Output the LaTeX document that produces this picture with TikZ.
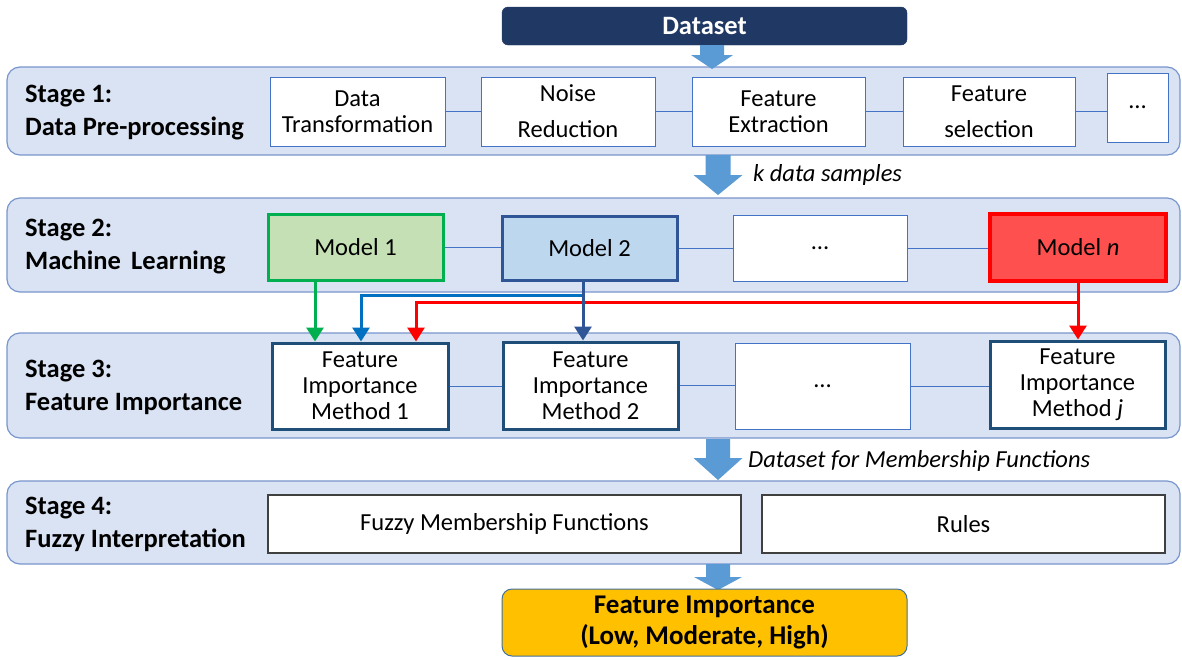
\documentclass[tikz,border=0pt]{standalone}
\usepackage{fontspec}
\setmainfont{Carlito}
\usetikzlibrary{arrows.meta}
\definecolor{panelfill}{RGB}{218,227,243}
\definecolor{panelborder}{RGB}{120,150,205}
\definecolor{navy}{RGB}{32,56,100}
\definecolor{arrowblue}{RGB}{91,155,213}
\definecolor{thinblue}{RGB}{68,114,196}
\definecolor{mgreenfill}{RGB}{197,224,180}
\definecolor{mgreen}{RGB}{0,176,80}
\definecolor{mbluefill}{RGB}{189,215,238}
\definecolor{mblue}{RGB}{47,85,151}
\definecolor{mredfill}{RGB}{255,80,80}
\definecolor{mred}{RGB}{255,0,0}
\definecolor{fimborder}{RGB}{31,78,121}
\definecolor{lineblue}{RGB}{0,112,192}
\definecolor{darkgray}{RGB}{64,64,64}
\definecolor{gold}{RGB}{255,192,0}
\definecolor{goldborder}{RGB}{65,113,156}
\newcommand{\blkarrow}[6]{%
  \fill[arrowblue] ({#1-#5},#2) -- ({#1+#5},#2) -- ({#1+#5},#3) -- ({#1+#6},#3)
    -- (#1,#4) -- ({#1-#6},#3) -- ({#1-#5},#3) -- cycle;}
\tikzset{
  panel/.style={draw=panelborder, fill=panelfill, rounded corners=13pt, line width=1.2pt},
  boxtext/.style={font=\fontsize{24.5}{26}\selectfont, align=center, inner sep=0pt, text=black},
  thinbox/.style={boxtext, draw=thinblue, fill=white, line width=1pt},
  modelbox/.style={boxtext, line width=3pt},
  fimbox/.style={boxtext, draw=fimborder, fill=white, line width=3pt},
  fuzzbox/.style={boxtext, draw=darkgray, fill=white, line width=1.2pt},
  stagelabel/.style={font=\bfseries\fontsize{26.5}{33}\selectfont, align=left, anchor=west, inner sep=0pt},
  conn/.style={draw=thinblue, line width=0.8pt},
  flow/.style={line width=3pt, -{Triangle[width=17pt,length=14pt]}},
  note/.style={font=\itshape\fontsize{24.5}{27}\selectfont, anchor=west, inner sep=0pt},
}
\begin{document}
\begin{tikzpicture}[x=1pt, y=-1pt]
\useasboundingbox[fill=white] (0,0) rectangle (1182,659);
% panels
\draw[panel] (7,67) rectangle (1180,155);
\draw[panel] (7,198) rectangle (1180,292);
\draw[panel] (7,333) rectangle (1180,438);
\draw[panel] (7,481) rectangle (1180,564);
% dataset
\node[fill=navy, draw=navy, rounded corners=6pt, minimum width=405pt, minimum height=38pt, inner sep=0pt,
  text=white, font=\bfseries\fontsize{26.5}{30}\selectfont] (ds) at (704.5,26) {Dataset};
% block arrows
\blkarrow{712}{45}{55}{69}{12}{21}
\blkarrow{718}{155}{175}{195}{12.5}{24.5}
\blkarrow{718}{439}{458}{480}{12}{24.5}
\blkarrow{718}{564}{577}{590}{12}{24}
% notes
\node[note] (kds) at (753,175) {k data samples};
\node[note] (dmf) at (748,461) {Dataset for Membership Functions};
% stage labels
\node[stagelabel] (s1) at (25,113) {Stage 1:\\Data Pre-processing};
\node[stagelabel] (s2) at (25,247) {Stage 2:\\Machine\, Learning};
\node[stagelabel] (s3) at (25,387) {Stage 3:\\Feature Importance};
\node[stagelabel] (s4) at (25,524) {Stage 4:\\Fuzzy Interpretation};
% stage 1 boxes
\node[thinbox, minimum width=175pt, minimum height=69pt] (dt) at (357.5,111.5) {Data\\Transformation};
\node[thinbox, minimum width=174pt, minimum height=69pt] (nr) at (568,111.5) {Noise\\[10pt]Reduction};
\node[thinbox, minimum width=173pt, minimum height=69pt] (fe) at (778.5,111.5) {Feature\\Extraction};
\node[thinbox, minimum width=172pt, minimum height=69pt] (fs) at (989,111.5) {Feature\\[10pt]selection};
\node[thinbox, minimum width=61pt, minimum height=69pt] (e1) at (1137.5,107.5) {…};
\draw[conn] (dt.east) -- (dt.east -| nr.west);
\draw[conn] (nr.east) -- (nr.east -| fe.west);
\draw[conn] (fe.east) -- (fe.east -| fs.west);
\draw[conn] (fs.east) -- (fs.east -| e1.west);
% stage 2 boxes
\node[modelbox, draw=mgreen, fill=mgreenfill, minimum width=175pt, minimum height=66pt] (m1) at (355.5,247) {Model 1};
\node[modelbox, draw=mblue, fill=mbluefill, minimum width=175pt, minimum height=64pt] (m2) at (589.5,248) {Model 2};
\node[thinbox, minimum width=174pt, minimum height=66pt] (e2) at (820,248) {…};
\node[modelbox, draw=mred, fill=mredfill, line width=3.5pt, minimum width=176pt, minimum height=67pt] (mn) at (1078,247.5) {Model \textit{n}};
\draw[conn] (m1.east) -- (m1.east -| m2.west);
\draw[conn] (m2.east) -- (m2.east -| e2.west);
\draw[conn] (e2.east) -- (e2.east -| mn.west);
% stage 3 boxes
\node[fimbox, minimum width=176pt, minimum height=86pt] (f1) at (360,386) {Feature\\Importance\\Method 1};
\node[fimbox, minimum width=175pt, minimum height=87pt] (f2) at (590.5,385.5) {Feature\\Importance\\Method 2};
\node[thinbox, minimum width=175pt, minimum height=86pt] (e3) at (822.5,386) {…};
\node[fimbox, minimum width=175pt, minimum height=87pt] (fj) at (1077.5,384.5) {Feature\\Importance\\Method \textit{j}};
\draw[conn] (f1.east) -- (f1.east -| f2.west);
\draw[conn] (f2.east) -- (f2.east -| e3.west);
\draw[conn] (e3.east) -- (e3.east -| fj.west);
% stage 4 boxes
\node[fuzzbox, minimum width=473pt, minimum height=58pt] (fmf) at (504.5,524) {Fuzzy Membership Functions};
\node[fuzzbox, minimum width=403pt, minimum height=58pt] (rules) at (963.5,524) {Rules};
% output
\node[fill=gold, draw=goldborder, line width=1pt, rounded corners=10pt, minimum width=405pt, minimum height=67pt,
  inner sep=0pt, align=center, font=\bfseries\fontsize{27}{31}\selectfont] (out) at (704.5,622.5)
  {Feature Importance\\(Low, Moderate, High)};
% model -> method arrows
\coordinate (gx) at (315,0);
\coordinate (bx) at (361,0);
\coordinate (rx) at (416,0);
\coordinate (m2x) at (583,0);
\coordinate (mnx) at (1078,0);
\coordinate (bj) at (583,295);
\coordinate (rj) at (1078,302);
\draw[flow, draw=mgreen, -{Triangle[width=17pt,length=14pt,fill=mgreen]}] (m1.south -| gx) -- (f1.north -| gx);
\draw[flow, draw=lineblue, -{Triangle[width=17pt,length=14pt,fill=lineblue]}] (bj) -| (f1.north -| bx);
\draw[flow, draw=mred, -{Triangle[width=17pt,length=14pt,fill=mred]}] (rj) -| (f1.north -| rx);
\draw[flow, draw=mred, -{Triangle[width=17pt,length=14pt,fill=mred]}] (mn.south -| mnx) -- (fj.north -| mnx);
\draw[flow, draw=mblue, -{Triangle[width=17pt,length=14pt,fill=mblue]}] (m2.south -| m2x) -- (f2.north -| m2x);
\end{tikzpicture}
\end{document}
